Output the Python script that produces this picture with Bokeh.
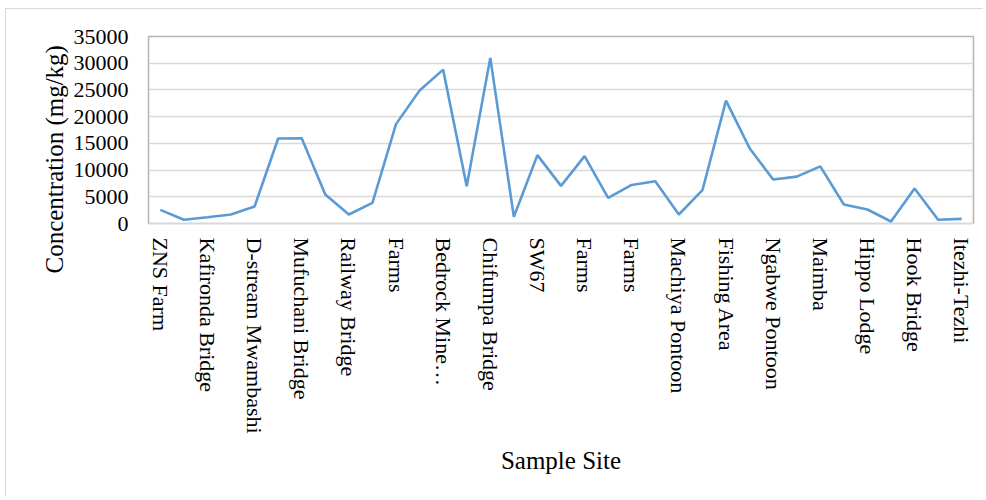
import math
from bokeh.plotting import figure
from bokeh.models import (ColumnDataSource, FixedTicker, NumeralTickFormatter,
                          Range1d, Title)
from bokeh.embed import file_html
from bokeh.resources import INLINE

# ---- data ----
site_labels = ["ZNS Farm", "Kafironda Bridge", "D-stream Mwambashi",
               "Mufuchani Bridge", "Railway Bridge", "Farms", "Bedrock Mine…",
               "Chifumpa Bridge", "SW67", "Farms", "Farms", "Machiya Pontoon",
               "Fishing Area", "Ngabwe Pontoon", "Maimba", "Hippo Lodge",
               "Hook Bridge", "Itezhi-Tezhi"]
concentration = [2550, 700, 1180, 1680, 3180, 15900, 15950, 5420, 1680, 3860,
                 18600, 24900, 28800, 6980, 31000, 1250, 12800, 7040, 12600,
                 4800, 7220, 7900, 1680, 6230, 23000, 14100, 8220, 8780, 10700,
                 3550, 2620, 380, 6540, 690, 870]
y_ticks = [0, 5000, 10000, 15000, 20000, 25000, 30000, 35000]

n = len(concentration)
xs = list(range(n))
label_positions = list(range(0, n, 2))

FONT = "Liberation Serif"

p = figure(width=978, height=488, output_backend="svg", toolbar_location=None,
           x_range=Range1d(-0.5, n - 0.5), y_range=Range1d(0, 35000),
           min_border_left=142, min_border_right=11, min_border_top=27,
           min_border_bottom=274)
p.styles = {"margin-left": "5px", "margin-top": "8px",
            "border-left": "1px solid #d9d9d9", "border-top": "1px solid #d9d9d9"}

src = ColumnDataSource(dict(x=xs, y=concentration))
p.line("x", "y", source=src, line_color="#5B9BD5", line_width=2.6)

# frame
p.outline_line_color = "#b3b3b3"
p.outline_line_width = 1.5

# grids
p.xgrid.grid_line_color = None
p.ygrid.grid_line_color = "#d9d9d9"
p.ygrid.grid_line_width = 1.3
p.ygrid.ticker = FixedTicker(ticks=y_ticks)

# y axis
ya = p.yaxis[0]
ya.ticker = FixedTicker(ticks=y_ticks)
ya.formatter = NumeralTickFormatter(format="0")
ya.axis_line_color = None
ya.major_tick_line_color = None
ya.minor_tick_line_color = None
ya.major_tick_out = 0
ya.major_label_standoff = 20
ya.major_label_text_font = FONT
ya.major_label_text_font_size = "22px"
ya.major_label_text_color = "black"

# x axis
xa = p.xaxis[0]
xa.ticker = FixedTicker(ticks=label_positions)
xa.major_label_overrides = {pos: lab for pos, lab in zip(label_positions, site_labels)}
xa.major_label_orientation = -math.pi / 2
xa.axis_line_color = "#d9d9d9"
xa.major_tick_line_color = None
xa.minor_tick_line_color = None
xa.major_tick_out = 0
xa.major_label_standoff = 14
xa.major_label_text_font = FONT
xa.major_label_text_font_size = "22px"
xa.major_label_text_color = "black"
xa.axis_label = "Sample Site"
xa.axis_label_text_font = FONT
xa.axis_label_text_font_size = "25px"
xa.axis_label_text_font_style = "normal"
xa.axis_label_text_color = "black"
xa.axis_label_standoff = 10

# y title
yt = Title(text="Concentration (mg/kg)", align="left", offset=-50,
           text_font=FONT, text_font_size="25px", text_font_style="normal",
           text_color="black", standoff=6)
p.add_layout(yt, "left")

open("out.html", "w").write(file_html(p, INLINE))
